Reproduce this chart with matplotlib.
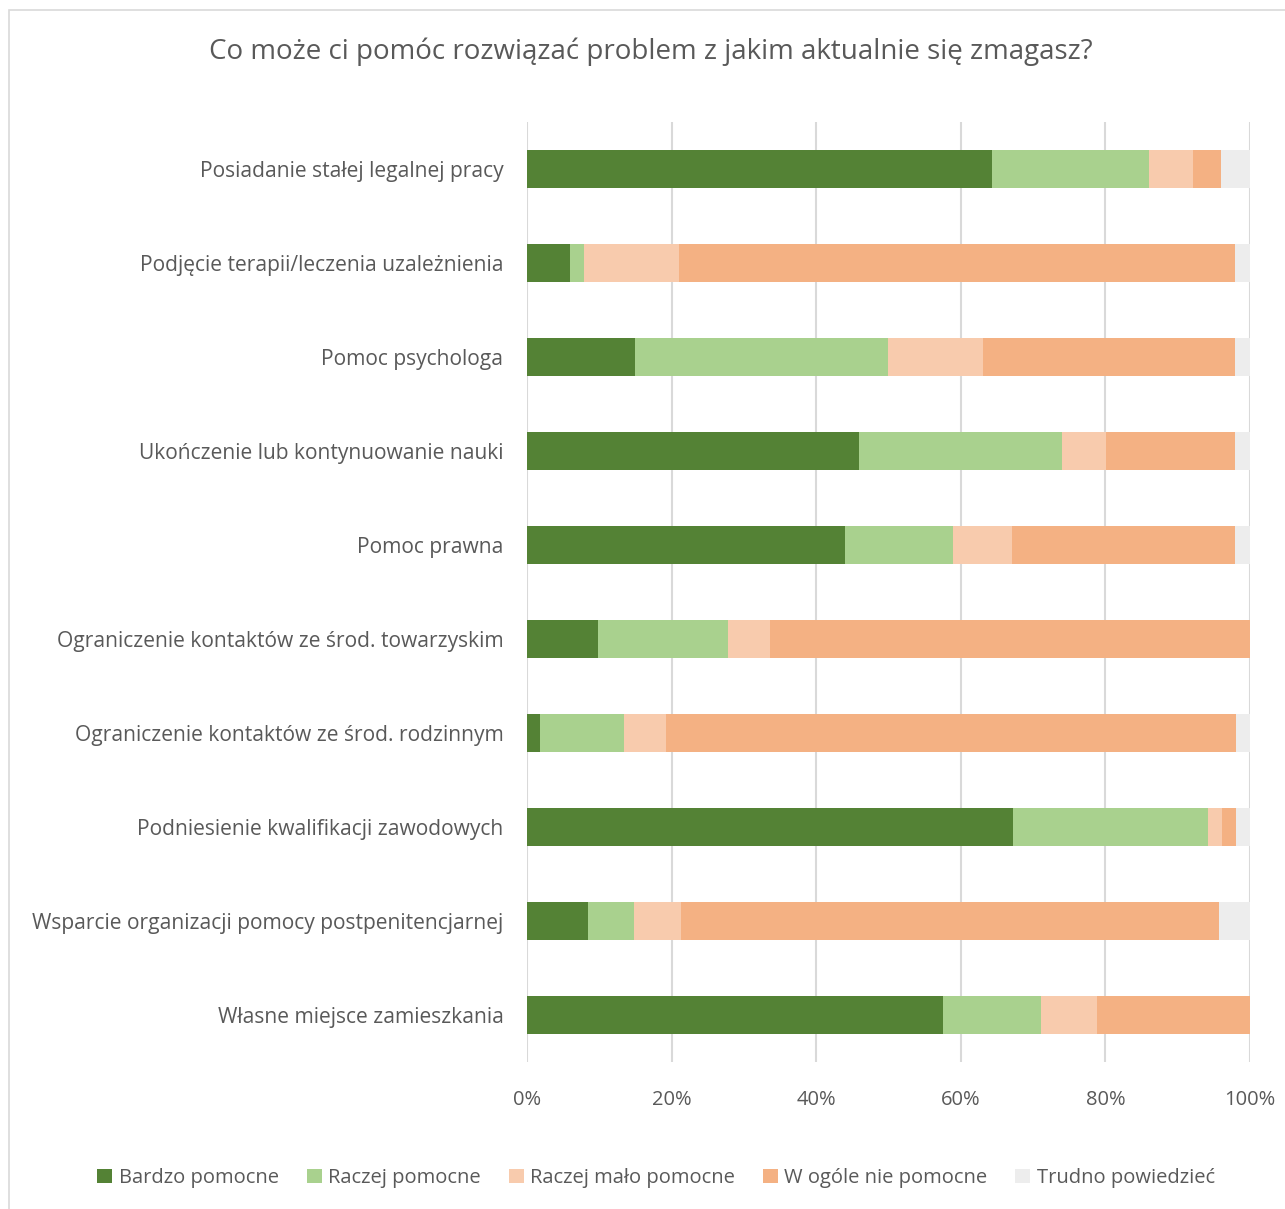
import matplotlib
matplotlib.use("Agg")
import matplotlib.pyplot as plt
from matplotlib.patches import Rectangle
import numpy as np

categories = [
    "Posiadanie stałej legalnej pracy",
    "Podjęcie terapii/leczenia uzależnienia",
    "Pomoc psychologa",
    "Ukończenie lub kontynuowanie nauki",
    "Pomoc prawna",
    "Ograniczenie kontaktów ze środ. towarzyskim",
    "Ograniczenie kontaktów ze środ. rodzinnym",
    "Podniesienie kwalifikacji zawodowych",
    "Wsparcie organizacji pomocy postpenitencjarnej",
    "Własne miejsce zamieszkania",
]
series_names = ["Bardzo pomocne", "Raczej pomocne", "Raczej mało pomocne",
                "W ogóle nie pomocne", "Trudno powiedzieć"]
bardzo = [64.3, 5.9, 14.9, 45.9, 44.0, 9.8, 1.8, 67.2, 8.4, 57.5]
raczej = [21.7, 2.0, 35.0, 28.1, 14.9, 18.0, 11.6, 27.0, 6.4, 13.6]
malo = [6.1, 13.1, 13.2, 6.1, 8.2, 5.8, 5.8, 1.9, 6.5, 7.7]
wcale = [3.9, 76.9, 34.8, 17.8, 30.8, 66.4, 78.9, 2.0, 74.4, 21.2]
trudno = [4.0, 2.1, 2.1, 2.1, 2.1, 0.0, 1.9, 1.9, 4.3, 0.0]
xticks = [0, 20, 40, 60, 80, 100]
xtick_labels = ["0%", "20%", "40%", "60%", "80%", "100%"]
title = "Co może ci pomóc rozwiązać problem z jakim aktualnie się zmagasz?"

colors = ["#548235", "#A9D18E", "#F8CBAD", "#F4B183", "#EDEDED"]
text_color = "#595959"
plt.rcParams['font.family'] = ['Open Sans', 'DejaVu Sans']

W, H = 1285, 1209
fig = plt.figure(figsize=(W / 100, H / 100), dpi=100)
ax = fig.add_axes([527 / W, 1 - 1062 / H, (1250 - 527) / W, (1062 - 122) / H])

series = [bardzo, raczej, malo, wcale, trudno]
y = np.arange(len(categories))
left = np.zeros(len(categories))
for vals, c, name in zip(series, colors, series_names):
    v = np.array(vals)
    ax.barh(y, v, left=left, height=0.40, color=c, label=name, zorder=3)
    left += v

ax.set_ylim(len(categories) - 0.5, -0.5)
ax.set_xlim(0, 100)
ax.set_xticks(xticks)
ax.set_xticklabels(xtick_labels)
ax.set_yticks(y)
ax.set_yticklabels(categories)
ax.tick_params(axis='x', length=0, labelsize=14.5, colors=text_color, pad=20)
ax.tick_params(axis='y', length=0, labelsize=15.1, colors=text_color, pad=17)
for s in ax.spines.values():
    s.set_visible(False)
ax.grid(axis='x', color='#D9D9D9', linewidth=1.5, zorder=0)
ax.set_axisbelow(True)

fig.text((210 + 1092) / 2 / W, 1 - 52 / H, title, ha='center', va='center',
         fontsize=20, color=text_color)

handles, labels = ax.get_legend_handles_labels()
leg = fig.legend(handles, labels, loc='center', bbox_to_anchor=(656 / W, 1 - 1178 / H),
                 ncol=5, frameon=False, fontsize=14.5, handlelength=0.75,
                 handleheight=0.75, handletextpad=0.3, columnspacing=1.4)
for t in leg.get_texts():
    t.set_color(text_color)

fig.patches.append(Rectangle((9 / W, -0.01), 1.02, 1 - 10 / H + 0.01, transform=fig.transFigure,
                             fill=False, edgecolor='#D9D9D9', linewidth=1.2))

fig.savefig("out.png", dpi=100, facecolor='white')
